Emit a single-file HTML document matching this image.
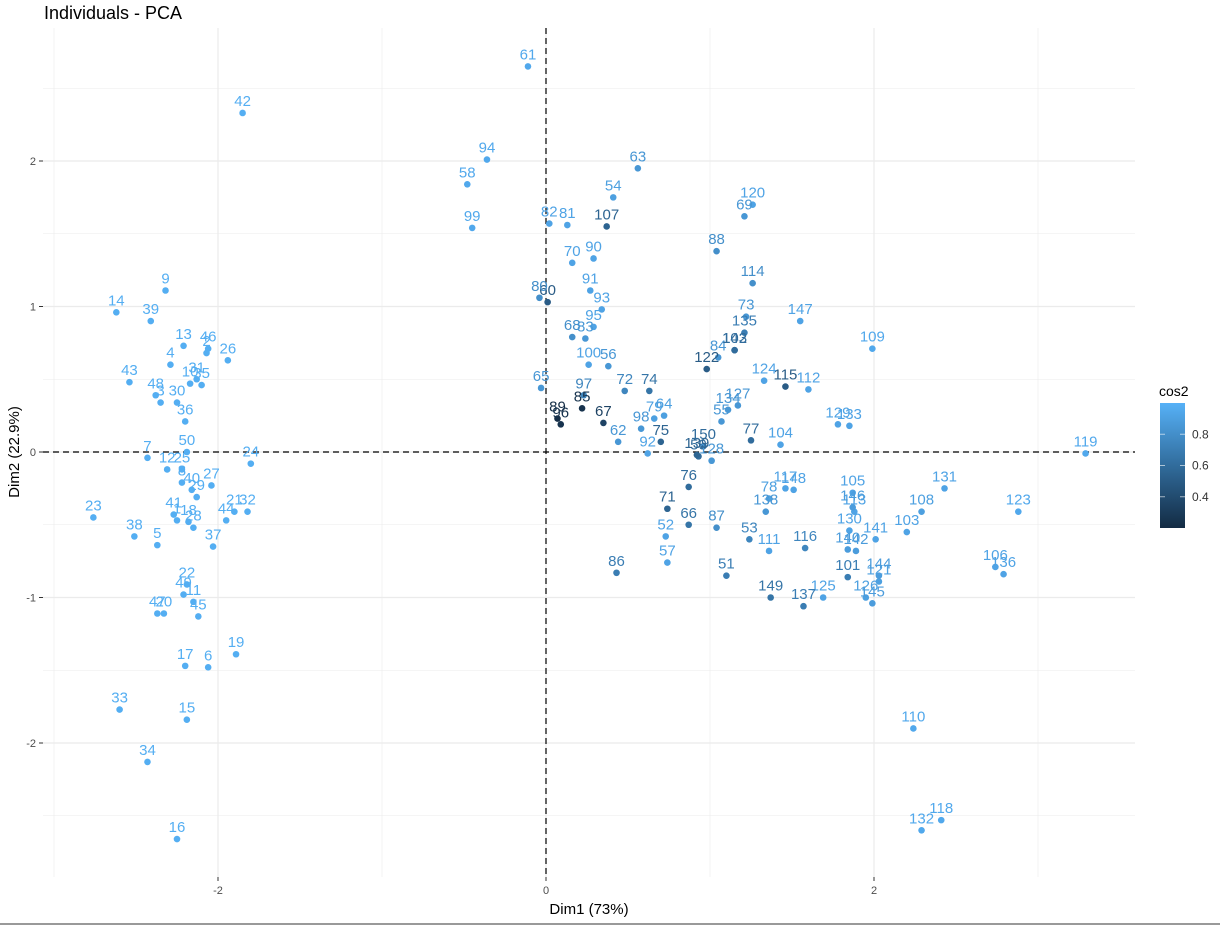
<!DOCTYPE html>
<html><head><meta charset="utf-8"><style>
body{margin:0;background:#fff;}
svg{display:block;font-family:"Liberation Sans",sans-serif;}
</style></head><body>
<svg id="chart" width="1220" height="925" xmlns="http://www.w3.org/2000/svg">
<defs><linearGradient id="cbar" x1="0" y1="1" x2="0" y2="0">
<stop offset="0" stop-color="#132B43"/><stop offset="0.5" stop-color="#316C9C"/><stop offset="1" stop-color="#56B1F7"/>
</linearGradient></defs>
<rect x="0" y="0" width="1220" height="925" fill="#fff"/>
<text x="44" y="19" font-size="18" fill="#000">Individuals - PCA</text>
<g id="grid"></g>
<g id="axes"></g>
<g id="points"></g>
<g id="labels"></g>
<text x="589" y="914" font-size="15" text-anchor="middle" fill="#000">Dim1 (73%)</text>
<text transform="translate(19,452) rotate(-90)" font-size="15" text-anchor="middle" fill="#000">Dim2 (22.9%)</text>
<g>
<text x="1159" y="396" font-size="14" fill="#000">cos2</text>
<rect x="1160" y="403" width="25" height="125" fill="url(#cbar)"/>
<g id="legend-ticks"></g>
<line x1="0" y1="924" x2="1220" y2="924" stroke="#999" stroke-width="2"/>
</g>
</svg>
<script>
const ids = Array.from({length:150},(_,i)=>i+1);
const dim1 = [-2.25,-2.07,-2.35,-2.29,-2.37,-2.06,-2.43,-2.22,-2.32,-2.17,
-2.15,-2.31,-2.21,-2.62,-2.19,-2.25,-2.20,-2.18,-1.89,-2.33,
-1.90,-2.19,-2.76,-1.80,-2.22,-1.94,-2.04,-2.15,-2.13,-2.25,
-2.13,-1.82,-2.60,-2.43,-2.10,-2.20,-2.03,-2.51,-2.41,-2.16,
-2.27,-1.85,-2.54,-1.95,-2.12,-2.06,-2.37,-2.38,-2.21,-2.19,
1.10,0.73,1.24,0.41,1.07,0.38,0.74,-0.48,0.93,0.01,
-0.11,0.44,0.56,0.72,-0.03,0.87,0.35,0.16,1.21,0.16,
0.74,0.48,1.22,0.63,0.70,0.87,1.25,1.36,0.66,-0.04,
0.13,0.02,0.24,1.05,0.22,0.43,1.04,1.04,0.07,0.29,
0.27,0.62,0.34,-0.36,0.29,0.09,0.23,0.58,-0.45,0.26,
1.84,1.15,2.20,1.43,1.87,2.74,0.37,2.29,1.99,2.24,
1.36,1.60,1.88,1.26,1.46,1.58,1.46,2.41,3.29,1.26,
2.03,0.98,2.88,1.33,1.69,1.95,1.17,1.01,1.78,1.85,
2.43,2.29,1.85,1.11,1.21,2.79,1.57,1.34,0.92,1.84,
2.01,1.89,1.15,2.03,1.99,1.87,1.55,1.51,1.37,0.96];
const dim2 = [-0.47,0.68,0.34,0.60,-0.64,-1.48,-0.04,-0.21,1.11,0.47,
-1.03,-0.12,0.73,0.96,-1.84,-2.66,-1.47,-0.48,-1.39,-1.11,
-0.41,-0.91,-0.45,-0.08,-0.12,0.63,-0.23,-0.52,-0.31,0.34,
0.50,-0.41,-1.77,-2.13,0.46,0.21,-0.65,-0.58,0.90,-0.26,
-0.43,2.33,0.48,-0.47,-1.13,0.71,-1.11,0.39,-0.98,0.00,
-0.85,-0.58,-0.60,1.75,0.21,0.59,-0.76,1.84,-0.03,1.03,
2.65,0.07,1.95,0.25,0.44,-0.50,0.20,0.79,1.62,1.30,
-0.39,0.42,0.93,0.42,0.07,-0.24,0.08,-0.32,0.23,1.06,
1.56,1.57,0.78,0.65,0.30,-0.83,-0.52,1.38,0.23,1.33,
1.11,-0.01,0.98,2.01,0.86,0.19,0.39,0.16,1.54,0.60,
-0.86,0.70,-0.55,0.05,-0.28,-0.79,1.55,-0.41,0.71,-1.90,
-0.68,0.43,-0.41,1.16,0.45,-0.66,-0.25,-2.53,-0.01,1.70,
-0.89,0.57,-0.41,0.49,-1.00,-1.00,0.32,-0.06,0.19,-0.54,
-0.25,-2.60,0.18,0.29,0.82,-0.84,-1.06,-0.41,-0.02,-0.67,
-0.60,-0.68,0.70,-0.85,-1.04,-0.38,0.90,-0.26,-1.00,0.04];
const cos2 = [0.98,0.98,0.98,0.98,0.98,0.98,0.98,0.98,0.98,0.98,
0.98,0.98,0.98,0.98,0.98,0.98,0.98,0.98,0.98,0.98,
0.98,0.98,0.98,0.98,0.98,0.98,0.98,0.98,0.98,0.98,
0.98,0.98,0.98,0.98,0.98,0.98,0.98,0.98,0.98,0.98,
0.98,0.98,0.98,0.98,0.98,0.98,0.98,0.98,0.98,0.98,
0.7,0.92,0.75,0.9,0.85,0.85,0.92,0.95,0.6,0.5,
0.95,0.85,0.85,0.9,0.85,0.65,0.35,0.8,0.85,0.92,
0.55,0.75,0.85,0.65,0.55,0.6,0.6,0.9,0.9,0.8,
0.92,0.92,0.85,0.85,0.25,0.7,0.8,0.8,0.22,0.92,
0.92,0.92,0.92,0.95,0.92,0.25,0.75,0.85,0.95,0.92,
0.7,0.6,0.92,0.92,0.92,0.92,0.55,0.9,0.95,0.95,
0.92,0.92,0.92,0.8,0.5,0.75,0.92,0.95,0.95,0.92,
0.9,0.5,0.95,0.92,0.92,0.9,0.85,0.85,0.92,0.92,
0.92,0.95,0.92,0.85,0.7,0.92,0.7,0.85,0.55,0.88,
0.92,0.88,0.6,0.88,0.88,0.88,0.92,0.92,0.65,0.6];
const xTicks = [-2,0,2];
const yTicks = [-2,-1,0,1,2];
const legendTicks = [0.4,0.6,0.8];

const NS="http://www.w3.org/2000/svg";
const P={l:43,r:1135,t:28,b:877};
const sx=v=>546+v*164;
const sy=v=>452-v*145.5;
const ly=v=>528-(v-0.2)/0.8*125;
function mk(tag,attrs,parent){const e=document.createElementNS(NS,tag);for(const k in attrs)e.setAttribute(k,attrs[k]);document.getElementById(parent).appendChild(e);return e;}
function col(c){const t=Math.max(0,Math.min(1,(c-0.2)/0.8));
const lo=[19,43,67],mid=[49,108,156],hi=[86,177,247];let a,b,u;
if(t<0.5){a=lo;b=mid;u=t/0.5}else{a=mid;b=hi;u=(t-0.5)/0.5}
return `rgb(${a.map((v,i)=>Math.round(v+(b[i]-v)*u)).join(',')})`;}

for(let v=-3;v<=3.3;v+=1){const x=sx(v);if(x<P.l||x>P.r)continue;
const g=mk('line',{x1:x,x2:x,y1:P.t,y2:P.b,stroke:'#ebebeb','stroke-width':Math.abs(v%2)===1?0.6:1.2},'grid');

}
for(let v=-2.5;v<=2.75;v+=0.5){const y=sy(v);if(y<P.t||y>P.b)continue;
const g=mk('line',{x1:P.l,x2:P.r,y1:y,y2:y,stroke:'#ebebeb','stroke-width':Number.isInteger(v)?1.2:0.6},'grid');

}
const zx=mk('line',{x1:sx(0),x2:sx(0),y1:P.t,y2:P.b,stroke:'#000','stroke-dasharray':'6,4','stroke-width':1.2},'axes');


const zy=mk('line',{x1:P.l,x2:P.r,y1:sy(0),y2:sy(0),stroke:'#000','stroke-dasharray':'6,4','stroke-width':1.2},'axes');


xTicks.forEach(v=>{const x=sx(v);
const t=mk('line',{x1:x,x2:x,y1:P.b,y2:P.b+4,stroke:'#333'},'axes');


const l=mk('text',{x:x,y:P.b+17,'font-size':11,'text-anchor':'middle',fill:'#4d4d4d'},'axes');l.textContent=v;

});
yTicks.forEach(v=>{const y=sy(v);
const t=mk('line',{x1:P.l-4,x2:P.l,y1:y,y2:y,stroke:'#333'},'axes');


const l=mk('text',{x:P.l-7,y:y+4,'font-size':11,'text-anchor':'end',fill:'#4d4d4d'},'axes');l.textContent=v;

});
legendTicks.forEach(v=>{const y=ly(v);
const a=mk('line',{x1:1160,x2:1165,y1:y,y2:y,stroke:'#fff','stroke-opacity':0.6},'legend-ticks');


const b=mk('line',{x1:1180,x2:1185,y1:y,y2:y,stroke:'#fff','stroke-opacity':0.6},'legend-ticks');


const l=mk('text',{x:1192,y:y+4,'font-size':12,fill:'#333'},'legend-ticks');l.textContent=v;

});
ids.forEach((id,i)=>{const x=sx(dim1[i]),y=sy(dim2[i]),c=col(cos2[i]);
const p=mk('circle',{cx:x,cy:y,r:3.3,fill:c},'points');


const t=mk('text',{x:x,y:y-7,'font-size':15,'text-anchor':'middle',fill:c},'labels');t.textContent=id;

});
</script>
</body></html>
